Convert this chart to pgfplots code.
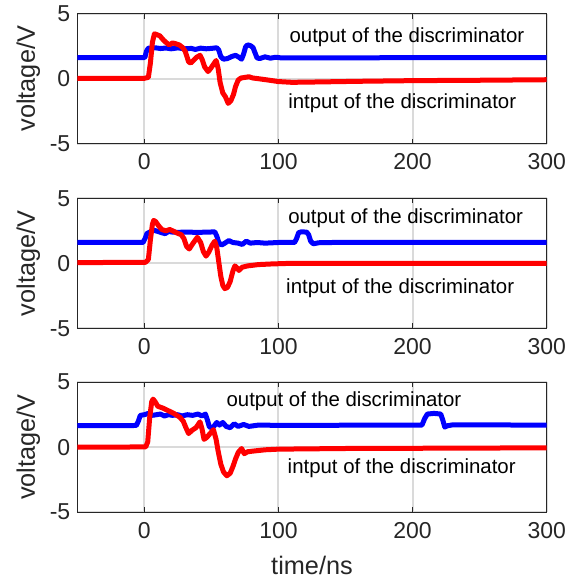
\documentclass[border=0pt]{standalone}
\usepackage{fontspec}
\setmainfont{Liberation Sans}
\usepackage{pgfplots}
\pgfplotsset{compat=1.18}
\definecolor{axgray}{RGB}{38,38,38}
\definecolor{gridgray}{RGB}{218,218,218}
\definecolor{pblue}{RGB}{0,0,255}
\definecolor{pred}{RGB}{255,0,0}
\pgfplotsset{
  panel/.style={
    width=234.7pt, height=65pt, scale only axis,
    anchor=south west,
    xmin=-50, xmax=300, ymin=-5, ymax=5,
    xtick={0,100,200,300}, ytick={-5,0,5},
    grid=major, major grid style={gridgray, line width=1pt},
    axis line style={axgray, line width=0.65pt},
    major tick style={axgray, line width=0.65pt}, major tick length=2.5pt,
    tick align=inside,
    tick label style={font=\fontsize{11.5}{13}\selectfont, text=axgray},
    label style={font=\fontsize{12.65}{14}\selectfont, text=axgray},
    xticklabel shift=1.5pt,
    ylabel shift=-2pt,
    xlabel shift=2pt,
    /pgf/number format/assume math mode=true,
    ylabel={voltage/V},
  },
  bl/.style={pblue, line width=2.5pt, line join=round, no marks},
  rd/.style={pred, line width=2.5pt, line join=round, no marks},
}
\tikzset{ann/.style={anchor=west, font=\fontsize{10.2}{12}\selectfont, text=black, inner sep=0pt}}
\begin{document}
\begin{tikzpicture}
\useasboundingbox (0,0) rectangle (284pt,289pt);
% ---------- panel 1 ----------
\begin{axis}[panel, at={(38.65pt,217.15pt)}]
\addplot[bl] coordinates {(-50,1.63) (0,1.63) (0.5,1.68) (1.5,2.1) (3,2.35) (8,2.38) (12,2.32) (16,2.36) (20,2.3) (25,2.37) (30,2.3) (35,2.33) (38,2.25) (42,2.35) (46,2.3) (50,2.33) (54,2.38) (55.5,2.2) (57,1.7) (59,1.5) (62,1.55) (65,1.7) (68,1.8) (70.5,1.65) (72.5,1.5) (74,1.9) (75.5,2.45) (77,2.6) (79,2.55) (81,2.4) (82.5,2.0) (84,1.6) (86,1.55) (90,1.68) (94,1.58) (98,1.65) (102,1.6) (300,1.63)};
\addplot[rd] coordinates {(-50,0.02) (0,0.03) (3,0.1) (4.5,1.2) (6,2.8) (7.5,3.45) (9,3.4) (11.5,3.3) (14,3.0) (16,2.8) (18.5,2.6) (21,2.75) (23,2.7) (26,2.6) (28.5,2.4) (30.5,2.1) (33,1.3) (34.5,1.2) (36.5,1.4) (39,1.65) (41.5,1.8) (43,1.5) (45,0.9) (47.5,0.55) (49.5,0.8) (51.5,1.1) (53.5,1.4) (55,0.8) (56.5,-0.3) (58.5,-1.1) (60.5,-1.4) (62.5,-1.9) (64.5,-1.7) (66.5,-1.2) (68,-0.6) (70,-0.1) (72,0.05) (75,0.1) (78,0.15) (81,0.05) (85,0.0) (92,-0.1) (100,-0.22) (110,-0.28) (130,-0.25) (160,-0.2) (200,-0.15) (250,-0.12) (300,-0.08)};
\node[ann] at (axis cs:108,3.2) {output of the discriminator};
\node[ann] at (axis cs:107,-1.9) {intput of the discriminator};
\end{axis}
% ---------- panel 2 ----------
\begin{axis}[panel, at={(38.65pt,124.85pt)}]
\addplot[bl] coordinates {(-50,1.6) (-1,1.6) (0.5,1.9) (2,2.3) (4,2.4) (7,2.55) (10,2.45) (13,2.35) (15.5,2.28) (18,2.45) (21,2.4) (25,2.38) (30,2.4) (40,2.38) (48,2.4) (52.5,2.42) (54,2.1) (55.5,1.6) (57.5,1.4) (60,1.55) (63,1.75) (66,1.6) (70,1.55) (73,1.45) (76,1.7) (79,1.55) (84,1.6) (90,1.55) (100,1.6) (112,1.6) (113.5,1.9) (115,2.35) (117,2.42) (121,2.4) (122.5,2.2) (124,1.7) (126,1.5) (130,1.58) (140,1.6) (300,1.6)};
\addplot[rd] coordinates {(-50,0.05) (1,0.08) (3,0.3) (4.5,1.8) (6,3.0) (7,3.3) (8.5,3.2) (10.5,2.9) (13,2.6) (16,2.5) (19,2.6) (22,2.45) (25,2.3) (27.5,2.2) (29.5,1.9) (31.5,1.3) (33.5,1.1) (36,1.5) (39.5,2.0) (42,1.6) (44,0.9) (46,0.55) (48,0.85) (50.5,1.4) (52.5,1.7) (54,1.2) (55.5,0.1) (57,-1.0) (58.5,-1.7) (60,-1.95) (62,-1.85) (64,-1.4) (66,-0.6) (67.5,-0.2) (69,-0.35) (70.5,-0.55) (73,-0.3) (77,-0.2) (85,-0.1) (95,-0.05) (110,0.0) (150,0.0) (300,0.0)};
\node[ann] at (axis cs:107,3.5) {output of the discriminator};
\node[ann] at (axis cs:105.5,-1.95) {intput of the discriminator};
\end{axis}
% ---------- panel 3 ----------
\begin{axis}[panel, at={(38.65pt,32.9pt)}, xlabel={time/ns}]
\addplot[bl] coordinates {(-50,1.65) (-6,1.67) (-4.5,2.0) (-3,2.45) (0,2.5) (3,2.6) (6,2.45) (9,2.5) (12,2.55) (15,2.4) (18,2.5) (21,2.45) (25,2.5) (28,2.4) (32,2.5) (36,2.45) (40,2.55) (43,2.4) (45.5,2.55) (47,2.1) (48.5,1.55) (51,1.5) (54,1.9) (56,1.7) (58.5,1.9) (61,1.6) (64,1.5) (67,1.8) (70,1.6) (74,1.75) (78,1.6) (85,1.7) (100,1.68) (207,1.7) (209,2.2) (211,2.55) (216,2.6) (221,2.55) (222.5,2.1) (224,1.55) (226,1.65) (230,1.72) (300,1.7)};
\addplot[rd] coordinates {(-50,0.0) (1,0.02) (2.5,0.4) (4,2.3) (5.5,3.5) (6.5,3.7) (8,3.5) (10,3.15) (14,3.0) (18,2.8) (22,2.6) (26.5,2.3) (29,2.0) (31,1.5) (33,1.05) (35.5,1.3) (38.5,1.5) (41.5,1.95) (43,1.4) (44.5,0.6) (46.5,0.75) (49,1.05) (51.5,1.35) (53.5,0.6) (55,-0.3) (57,-1.3) (59,-1.9) (61.5,-2.2) (64,-2.0) (66,-1.5) (68,-0.9) (70,-0.4) (72.5,-0.1) (74.5,-0.5) (77,-0.35) (81,-0.3) (90,-0.2) (100,-0.15) (150,-0.1) (300,-0.05)};
\node[ann] at (axis cs:61,3.5) {output of the discriminator};
\node[ann] at (axis cs:106.6,-1.65) {intput of the discriminator};
\end{axis}
\end{tikzpicture}
\end{document}
